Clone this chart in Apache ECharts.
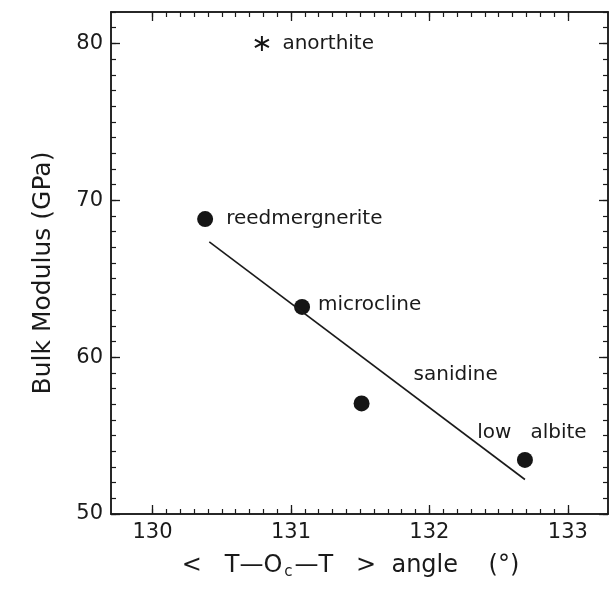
<!DOCTYPE html>
<html><head><meta charset="utf-8">
<script src="https://cdn.jsdelivr.net/npm/echarts@6/dist/echarts.min.js"></script>
<style>html,body{margin:0;padding:0;background:#fff}#c{width:610px;height:590px}</style>
</head><body><div id="c"></div>
<script>
// ---- data ----
const minerals = ['reedmergnerite', 'microcline', 'sanidine', 'low   albite'];
const angle = [130.38, 131.08, 131.51, 132.69];
const bulkModulus = [68.8, 63.2, 57.05, 53.45];
const starName = ['anorthite'];
const starAngle = [130.79];
const starModulus = [80.0];
const fitAngle = [130.41, 132.69];
const fitModulus = [67.35, 52.2];
const xMajorTicks = [130, 131, 132, 133];
const yMajorTicks = [50, 60, 70, 80];
const xRange = [129.7, 133.29];
const yRange = [50, 82];

// minor tick values
const xMinorTicks = [];
for (let i = 0; i <= 30; i++) xMinorTicks.push(+(130 + i * 0.1).toFixed(1));
const yMinorTicks = [];
for (let v = 50; v <= 82; v++) yMinorTicks.push(v);

// ---- styles ----
const FONT = 'DejaVu Sans';
const INK = '#1a1a1a';
const labelStyles = {
  'reedmergnerite': { position: 'right', distance: 13, offset: [0, 0] },
  'microcline': { position: 'right', distance: 8, offset: [0, -2] },
  'sanidine': { position: 'right', distance: 5, offset: [39, -29] },
  'low   albite': { position: 'top', distance: 5, offset: [7, -4] }
};

function axisX(opts) {
  return Object.assign({
    type: 'value', gridIndex: 0, min: xRange[0], max: xRange[1],
    splitLine: { show: false },
    axisLine: { show: true, onZero: false, lineStyle: { color: INK, width: 1.5 } },
    axisLabel: { show: false },
    axisTick: { show: true, inside: true, length: 9, lineStyle: { color: INK, width: 1.3 }, customValues: xMajorTicks }
  }, opts);
}
function axisY(opts) {
  return Object.assign({
    type: 'value', gridIndex: 0, min: yRange[0], max: yRange[1],
    splitLine: { show: false },
    axisLine: { show: true, onZero: false, lineStyle: { color: INK, width: 1.5 } },
    axisLabel: { show: false },
    axisTick: { show: true, inside: true, length: 9, lineStyle: { color: INK, width: 1.3 }, customValues: yMajorTicks }
  }, opts);
}

const starPath = 'path://M8.8 0L11.2 0L11.2 20L8.8 20Z M1.94 3.96L19.26 13.96L18.06 16.04L0.74 6.04Z M0.74 13.96L18.06 3.96L19.26 6.04L1.94 16.04Z';

const option = {
  animation: false,
  backgroundColor: '#fff',
  grid: { left: 111, right: 2, top: 12, bottom: 76, containLabel: false },
  xAxis: [
    axisX({
      position: 'bottom',
      axisLabel: { show: true, customValues: xMajorTicks, fontSize: 21, color: INK, fontFamily: FONT, margin: 8 },
      name: '<   T\u2014O{s|c}\u2014T   >  angle    (°)',
      nameLocation: 'middle', nameGap: 37,
      nameTextStyle: { fontSize: 24, color: INK, fontFamily: FONT, padding: [0, 18, 0, 0],
        rich: { s: { fontSize: 15, color: INK, fontFamily: FONT, padding: [14, 2, 0, 2] } } }
    }),
    axisX({ position: 'bottom', axisTick: { show: true, inside: true, length: 5, lineStyle: { color: INK, width: 1.2 }, customValues: xMinorTicks } }),
    axisX({ position: 'top' }),
    axisX({ position: 'top', axisTick: { show: true, inside: true, length: 5, lineStyle: { color: INK, width: 1.2 }, customValues: xMinorTicks } })
  ],
  yAxis: [
    axisY({
      position: 'left',
      axisLabel: { show: true, customValues: yMajorTicks, fontSize: 21, color: INK, fontFamily: FONT, margin: 8 },
      name: 'Bulk Modulus (GPa)', nameLocation: 'middle', nameGap: 55,
      nameTextStyle: { fontSize: 25, color: INK, fontFamily: FONT, padding: [0, 20, 0, 0] }
    }),
    axisY({ position: 'left', axisTick: { show: true, inside: true, length: 5, lineStyle: { color: INK, width: 1.2 }, customValues: yMinorTicks } }),
    axisY({ position: 'right' }),
    axisY({ position: 'right', axisTick: { show: true, inside: true, length: 5, lineStyle: { color: INK, width: 1.2 }, customValues: yMinorTicks } })
  ],
  series: [
    {
      type: 'line', xAxisIndex: 0, yAxisIndex: 0,
      data: fitAngle.map((x, i) => [x, fitModulus[i]]),
      symbol: 'none', lineStyle: { color: INK, width: 1.6 }, silent: true
    },
    {
      type: 'scatter', xAxisIndex: 0, yAxisIndex: 0,
      symbol: 'circle', symbolSize: 16,
      itemStyle: { color: '#151515', opacity: 1 },
      data: minerals.map((n, i) => ({
        name: n, value: [angle[i], bulkModulus[i]],
        label: Object.assign({ show: true, formatter: '{b}', fontSize: 20, color: INK, opacity: 1, fontFamily: FONT }, labelStyles[n])
      }))
    },
    {
      type: 'scatter', xAxisIndex: 0, yAxisIndex: 0,
      symbol: starPath, symbolSize: [15, 15],
      itemStyle: { color: '#151515', opacity: 1 },
      data: starName.map((n, i) => ({
        name: n, value: [starAngle[i], starModulus[i]],
        label: { show: true, formatter: '{b}', position: 'right', distance: 13, fontSize: 20, color: INK, opacity: 1, fontFamily: FONT }
      }))
    }
  ]
};
const chart = echarts.init(document.getElementById('c'), null, { renderer: 'canvas' });
chart.setOption(option);
</script>
</body></html>
